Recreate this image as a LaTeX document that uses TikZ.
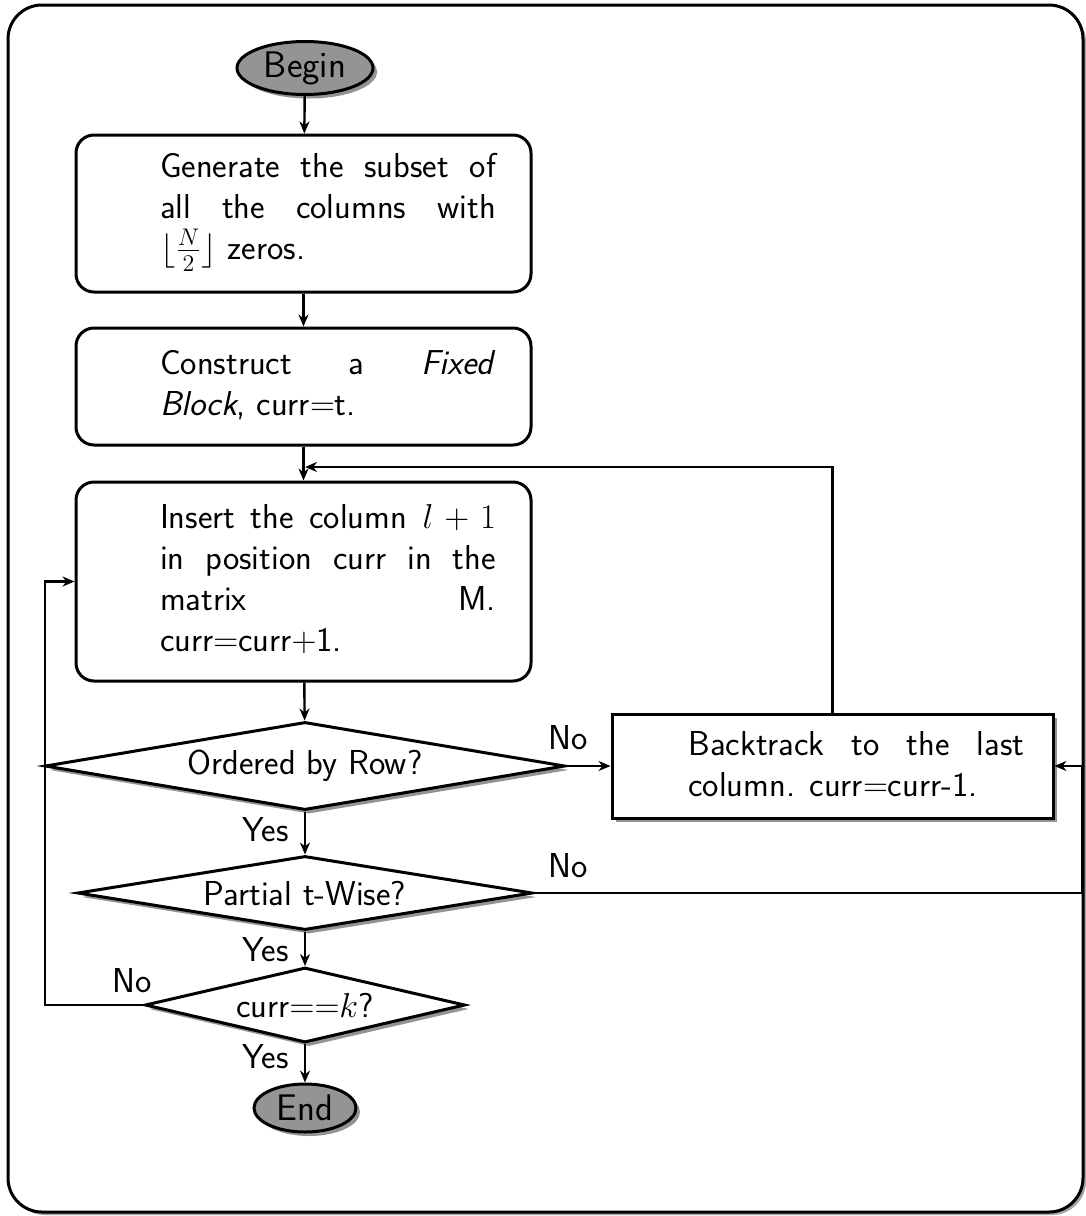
\documentclass[tikz,border=0pt]{standalone}
\usepackage{fontspec}
\usetikzlibrary{shapes.geometric,arrows.meta,shadows,calc}
\begin{document}
\begin{tikzpicture}[x=0.5pt,y=-0.5pt,
  font=\sffamily\fontsize{17.3}{20.5}\selectfont,
  shad/.style={drop shadow={shadow xshift=2pt,shadow yshift=-2pt,fill=black!60,opacity=0.7}},
  box/.style={draw,line width=1.5pt,rounded corners=9pt,minimum width=227.5pt,inner sep=0pt},
  txt/.style={text width=168pt,align=justify,inner sep=0pt},
  dia/.style={draw,diamond,line width=1.5pt,fill=white,inner sep=0pt,shad},
  oval/.style={draw,ellipse,line width=1.5pt,fill=black!42,inner sep=0pt,shad,font=\sffamily\fontsize{18.5}{20.5}\selectfont},
  arr/.style={line width=1.2pt,-{Stealth[length=6pt,width=5pt]}},
  lab/.style={inner sep=0pt}]
\useasboundingbox (0,0) rectangle (1086,1216);
\node[draw,line width=1.5pt,rounded corners=17pt,minimum width=537.5pt,minimum height=603.5pt,inner sep=0pt,
  drop shadow={shadow xshift=1.5pt,shadow yshift=-1.5pt,fill=black!60,opacity=0.6},fill=white] (frame) at (545.5,608.5) {};

\node[oval,minimum width=68pt,minimum height=26.5pt] (begin) at (305,68) {Begin};

\node[box,minimum height=78.5pt] (b1) at (303.5,213.5) {};
\node[txt] (t1) at (328,212) {\hyphenpenalty=10000 Generate the subset of\linebreak all the columns with\linebreak $\lfloor\frac{N}{2}\rfloor$ zeros.};

\node[box,minimum height=58.5pt] (b2) at (303.5,386.5) {};
\node[txt] (t2) at (328,385) {\hyphenpenalty=10000 Construct a \textit{Fixed}\linebreak \textit{Block}, curr$=$t.};

\node[box,minimum height=99.5pt] (b3) at (303.5,581.5) {};
\node[txt] (t3) at (328,579) {\hyphenpenalty=10000 Insert the column $l+1$\linebreak in position curr in the\linebreak matrix M.\linebreak curr$=$curr$+$1.};

\node[dia,minimum width=260pt,minimum height=44pt,aspect=5.9] (d1) at (305,766) {Ordered by Row?};

\node[draw,line width=1.5pt,fill=white,minimum width=220.5pt,minimum height=52pt,inner sep=0pt,shad] (bt) at (832.5,766) {};
\node[txt] (t4) at (856.5,764) {\hyphenpenalty=10000 \exhyphenpenalty=10000 Backtrack to the last\linebreak column. curr$=$curr-1.};

\node[dia,minimum width=227.5pt,minimum height=37pt,aspect=6.1] (d2) at (305,893) {Partial t-Wise?};
\node[dia,minimum width=160pt,minimum height=37.5pt,aspect=4.3] (d3) at (305,1005) {curr${=}{=}k$?};

\node[oval,minimum width=51pt,minimum height=24pt] (end) at (305,1108) {End};

\draw[arr] (begin) -- (b1);
\draw[arr] (b1) -- (b2);
\draw[arr] (b2) -- (b3);
\draw[arr] (b3) -- (d1);
\draw[arr] (d1) -- (d2);
\draw[arr] (d2) -- (d3);
\draw[arr] (d3) -- (end);
\draw[arr] (d1.east) -- (bt.west);
\coordinate (jt) at (305,467);
\draw[arr] (bt.north) |- (jt);
\coordinate (rx) at (1082,893);
\draw[arr] (d2.east) -- (rx) |- (bt.east);
\coordinate (lx) at (45,1005);
\draw[arr] (d3.west) -- (lx) |- (b3.west);

\node[lab,anchor=west] (no1) at (548,738) {No};
\node[lab,anchor=west] (no2) at (548,866) {No};
\node[lab,anchor=west] (no3) at (112,981) {No};
\node[lab,anchor=east] (y1) at (289,830) {Yes};
\node[lab,anchor=east] (y2) at (289,950) {Yes};
\node[lab,anchor=east] (y3) at (289,1057) {Yes};
\end{tikzpicture}
\end{document}
